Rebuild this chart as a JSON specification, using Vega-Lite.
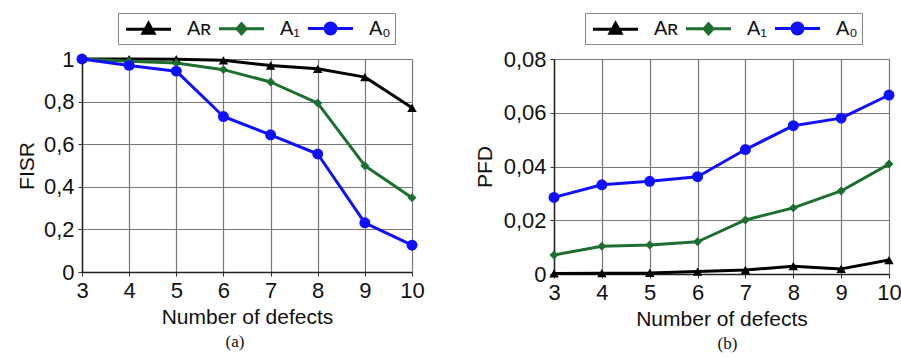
{
  "$schema": "https://vega.github.io/schema/vega-lite/v6.json",
  "padding": {"left": 16, "top": 12, "right": 4, "bottom": 4},
  "autosize": {"type": "pad"},
  "background": "white",
  "spacing": 49,
  "config": {
    "font": "Liberation Sans",
    "view": {"stroke": null},
    "axis": {
      "labelFont": "Liberation Sans", "labelFontSize": 22, "labelColor": "#111", "labelFlush": false,
      "titleFont": "Liberation Sans", "titleFontSize": 21, "titleFontWeight": "normal", "titleColor": "#111",
      "domainColor": "#222", "domainWidth": 1.5,
      "gridColor": "#777", "gridWidth": 1.2, "gridOpacity": 1,
      "tickColor": "#333", "tickSize": 4, "labelPadding": 4
    },
    "legend": {
      "orient": "none", "direction": "horizontal", "title": null,
      "strokeColor": "#888", "fillColor": "#fff", "padding": 4,
      "symbolSize": 400, "symbolStrokeWidth": 3, "symbolOffset": 15,
      "labelFont": "Liberation Sans", "labelFontSize": 20, "labelColor": "#111", "labelOffset": 27,
      "columnPadding": 1
    }
  },
  "resolve": {
    "scale": {"x": "independent", "y": "independent", "color": "independent"},
    "legend": {"color": "independent"}
  },
  "hconcat": [
    {
      "width": 330, "height": 213,
      "title": {"text": "(a)", "orient": "bottom", "font": "Liberation Serif", "fontSize": 17, "fontWeight": "normal", "color": "#111", "offset": 7, "dx": -12},
      "data": {"values": [
        {"n": 3, "s": "AR", "v": 1.0}, {"n": 4, "s": "AR", "v": 1.0}, {"n": 5, "s": "AR", "v": 0.999}, {"n": 6, "s": "AR", "v": 0.994},
        {"n": 7, "s": "AR", "v": 0.969}, {"n": 8, "s": "AR", "v": 0.954}, {"n": 9, "s": "AR", "v": 0.915}, {"n": 10, "s": "AR", "v": 0.771},
        {"n": 3, "s": "A1", "v": 1.0}, {"n": 4, "s": "A1", "v": 0.989}, {"n": 5, "s": "A1", "v": 0.981}, {"n": 6, "s": "A1", "v": 0.95},
        {"n": 7, "s": "A1", "v": 0.892}, {"n": 8, "s": "A1", "v": 0.793}, {"n": 9, "s": "A1", "v": 0.499}, {"n": 10, "s": "A1", "v": 0.349},
        {"n": 3, "s": "A0", "v": 1.0}, {"n": 4, "s": "A0", "v": 0.97}, {"n": 5, "s": "A0", "v": 0.943}, {"n": 6, "s": "A0", "v": 0.73},
        {"n": 7, "s": "A0", "v": 0.644}, {"n": 8, "s": "A0", "v": 0.554}, {"n": 9, "s": "A0", "v": 0.231}, {"n": 10, "s": "A0", "v": 0.126}
      ]},
      "encoding": {
        "x": {"field": "n", "type": "quantitative", "scale": {"domain": [3, 10], "nice": false, "zero": false},
              "axis": {"values": [3, 4, 5, 6, 7, 8, 9, 10], "format": "d", "title": "Number of defects", "titlePadding": 5}},
        "y": {"field": "v", "type": "quantitative", "scale": {"domain": [0, 1], "nice": false},
              "axis": {"values": [0, 0.2, 0.4, 0.6, 0.8, 1], "title": "FISR", "titlePadding": 6,
                       "labelExpr": "replace(format(datum.value, '~g'), '.', ',')"}},
        "color": {"field": "s", "type": "nominal",
                  "scale": {"domain": ["AR", "A1", "A0"], "range": ["#000000", "#1e6e32", "#1010ff"]},
                  "legend": {"legendX": 36, "legendY": -46,
                             "labelExpr": "datum.value === 'AR' ? 'Aʀ' : datum.value === 'A1' ? 'A₁' : 'A₀'",
                             "encode": {"symbols": {"update": {
                               "shape": {"signal": "datum.value === 'AR' ? 'M-2.25,0H2.25M0,-0.6L0.55,0.4L-0.55,0.4Z' : datum.value === 'A1' ? 'M-2.25,0H2.25M0,-0.5L0.45,0L0,0.5L-0.45,0Z' : 'M-2.25,0H2.25M0.55,0A0.55,0.55,0,1,1,-0.55,0A0.55,0.55,0,1,1,0.55,0Z'"},
                               "fill": {"signal": "datum.value === 'AR' ? '#000000' : datum.value === 'A1' ? '#1e6e32' : '#1010ff'"},
                               "stroke": {"signal": "datum.value === 'AR' ? '#000000' : datum.value === 'A1' ? '#1e6e32' : '#1010ff'"},
                               "opacity": {"value": 1}, "fillOpacity": {"value": 1}, "strokeOpacity": {"value": 1}
                             }}}}}
      },
      "layer": [
        {"mark": {"type": "line", "strokeJoin": "round"},
         "encoding": {"strokeWidth": {"field": "s", "type": "nominal", "scale": {"domain": ["AR", "A1", "A0"], "range": [3, 3, 4.5]}, "legend": null},
                      "order": {"field": "n"}}},
        {"transform": [{"filter": "datum.s === 'AR'"}], "mark": {"type": "point", "shape": "triangle-up", "filled": true, "opacity": 1, "size": 90}},
        {"transform": [{"filter": "datum.s === 'A1'"}], "mark": {"type": "point", "shape": "diamond", "filled": true, "opacity": 1, "size": 80}},
        {"transform": [{"filter": "datum.s === 'A0'"}], "mark": {"type": "point", "shape": "circle", "filled": true, "opacity": 1, "size": 120}}
      ]
    },
    {
      "width": 335, "height": 215,
      "title": {"text": "(b)", "orient": "bottom", "font": "Liberation Serif", "fontSize": 17, "fontWeight": "normal", "color": "#111", "offset": 7, "dx": 6},
      "data": {"values": [
        {"n": 3, "s": "AR", "v": 0.0002}, {"n": 4, "s": "AR", "v": 0.0003}, {"n": 5, "s": "AR", "v": 0.0004}, {"n": 6, "s": "AR", "v": 0.0009},
        {"n": 7, "s": "AR", "v": 0.0015}, {"n": 8, "s": "AR", "v": 0.0029}, {"n": 9, "s": "AR", "v": 0.0019}, {"n": 10, "s": "AR", "v": 0.0052},
        {"n": 3, "s": "A1", "v": 0.0071}, {"n": 4, "s": "A1", "v": 0.0103}, {"n": 5, "s": "A1", "v": 0.0108}, {"n": 6, "s": "A1", "v": 0.012},
        {"n": 7, "s": "A1", "v": 0.0201}, {"n": 8, "s": "A1", "v": 0.0246}, {"n": 9, "s": "A1", "v": 0.0309}, {"n": 10, "s": "A1", "v": 0.0409},
        {"n": 3, "s": "A0", "v": 0.0285}, {"n": 4, "s": "A0", "v": 0.0332}, {"n": 5, "s": "A0", "v": 0.0345}, {"n": 6, "s": "A0", "v": 0.0362},
        {"n": 7, "s": "A0", "v": 0.0463}, {"n": 8, "s": "A0", "v": 0.0552}, {"n": 9, "s": "A0", "v": 0.058}, {"n": 10, "s": "A0", "v": 0.0666}
      ]},
      "encoding": {
        "x": {"field": "n", "type": "quantitative", "scale": {"domain": [3, 10], "nice": false, "zero": false},
              "axis": {"values": [3, 4, 5, 6, 7, 8, 9, 10], "format": "d", "title": "Number of defects", "titlePadding": 5}},
        "y": {"field": "v", "type": "quantitative", "scale": {"domain": [0, 0.08], "nice": false},
              "axis": {"values": [0, 0.02, 0.04, 0.06, 0.08], "title": "PFD", "titlePadding": 8,
                       "labelExpr": "replace(format(datum.value, '~g'), '.', ',')"}},
        "color": {"field": "s", "type": "nominal",
                  "scale": {"domain": ["AR", "A1", "A0"], "range": ["#000000", "#1e6e32", "#1010ff"]},
                  "legend": {"legendX": 31, "legendY": -46,
                             "labelExpr": "datum.value === 'AR' ? 'Aʀ' : datum.value === 'A1' ? 'A₁' : 'A₀'",
                             "encode": {"symbols": {"update": {
                               "shape": {"signal": "datum.value === 'AR' ? 'M-2.25,0H2.25M0,-0.6L0.55,0.4L-0.55,0.4Z' : datum.value === 'A1' ? 'M-2.25,0H2.25M0,-0.5L0.45,0L0,0.5L-0.45,0Z' : 'M-2.25,0H2.25M0.55,0A0.55,0.55,0,1,1,-0.55,0A0.55,0.55,0,1,1,0.55,0Z'"},
                               "fill": {"signal": "datum.value === 'AR' ? '#000000' : datum.value === 'A1' ? '#1e6e32' : '#1010ff'"},
                               "stroke": {"signal": "datum.value === 'AR' ? '#000000' : datum.value === 'A1' ? '#1e6e32' : '#1010ff'"},
                               "opacity": {"value": 1}, "fillOpacity": {"value": 1}, "strokeOpacity": {"value": 1}
                             }}}}}
      },
      "layer": [
        {"mark": {"type": "line", "strokeJoin": "round"},
         "encoding": {"strokeWidth": {"field": "s", "type": "nominal", "scale": {"domain": ["AR", "A1", "A0"], "range": [3, 3, 4.5]}, "legend": null},
                      "order": {"field": "n"}}},
        {"transform": [{"filter": "datum.s === 'AR'"}], "mark": {"type": "point", "shape": "triangle-up", "filled": true, "opacity": 1, "size": 90}},
        {"transform": [{"filter": "datum.s === 'A1'"}], "mark": {"type": "point", "shape": "diamond", "filled": true, "opacity": 1, "size": 80}},
        {"transform": [{"filter": "datum.s === 'A0'"}], "mark": {"type": "point", "shape": "circle", "filled": true, "opacity": 1, "size": 120}}
      ]
    }
  ]
}
